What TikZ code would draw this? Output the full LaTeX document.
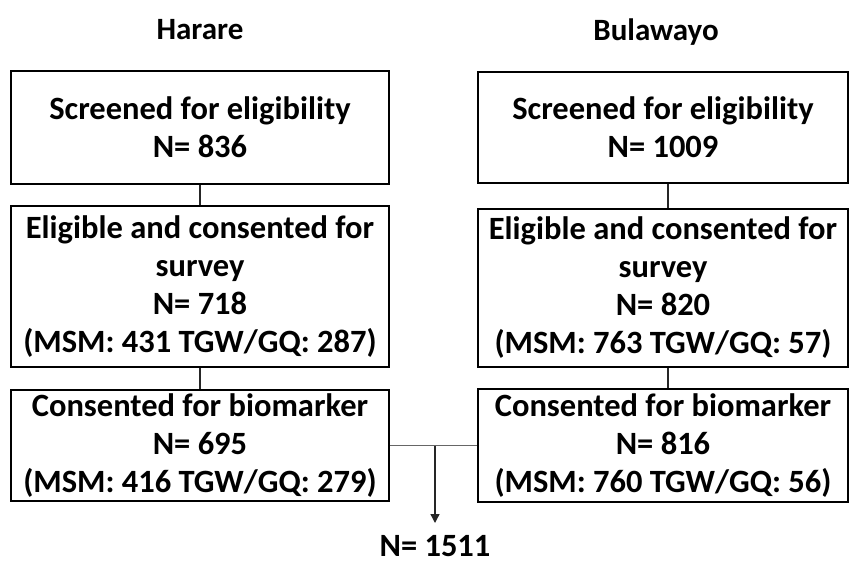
\documentclass[tikz,border=0pt]{standalone}
\usepackage{fontspec}
\setmainfont{Carlito}
\usetikzlibrary{arrows.meta}
\begin{document}
\begin{tikzpicture}[x=1pt,y=-1pt,
  box/.style={draw=black,line width=1.8pt,align=center,inner sep=0pt,
    font=\fontsize{32.5}{38}\selectfont\bfseries},
  head/.style={font=\fontsize{31}{37}\selectfont\bfseries},
  conn/.style={line width=1.4pt,draw=black!85}]
\useasboundingbox (0,0) rectangle (850,564);
\node[head] (hh) at (200,30) {Harare};
\node[head] (hb) at (656,32) {Bulawayo};
\node[box,minimum width=378pt,minimum height=113pt] (L1) at (200,127.5) {Screened for eligibility\\N= 836};
\node[box,minimum width=378pt,minimum height=161pt] (L2) at (200,286.5) {Eligible and consented for\\survey\\N= 718\\(MSM: 431 TGW/GQ: 287)};
\node[box,minimum width=378pt,minimum height=111pt] (L3) at (200,445.5) {Consented for biomarker\\N= 695\\(MSM: 416 TGW/GQ: 279)};
\node[box,minimum width=370pt,minimum height=111pt] (R1) at (663,127.5) {Screened for eligibility\\N= 1009};
\node[box,minimum width=370pt,minimum height=158pt] (R2) at (663,288) {Eligible and consented for\\survey\\N= 820\\(MSM: 763 TGW/GQ: 57)};
\node[box,minimum width=370pt,minimum height=113pt] (R3) at (663,445.5) {Consented for biomarker\\N= 816\\(MSM: 760 TGW/GQ: 56)};
\node[head,font=\fontsize{32.5}{37}\selectfont\bfseries] (tot) at (435,546) {N= 1511};
\draw[conn] (L1.south) -- (L2.north);
\draw[conn] (L2.south) -- (L3.north);
\draw[conn] ([xshift=5pt]R1.south) -- ([xshift=5pt]R2.north);
\draw[conn] ([xshift=5pt]R2.south) -- ([xshift=5pt]R3.north);
\draw[conn,draw=black!60,line width=1pt] (L3.east) -- (R3.west);
\coordinate (j) at (435,446);
\coordinate (a) at (435,523);
\draw[conn,-{Triangle[width=9pt,length=9pt]}] (j) -- (a);
\end{tikzpicture}
\end{document}
